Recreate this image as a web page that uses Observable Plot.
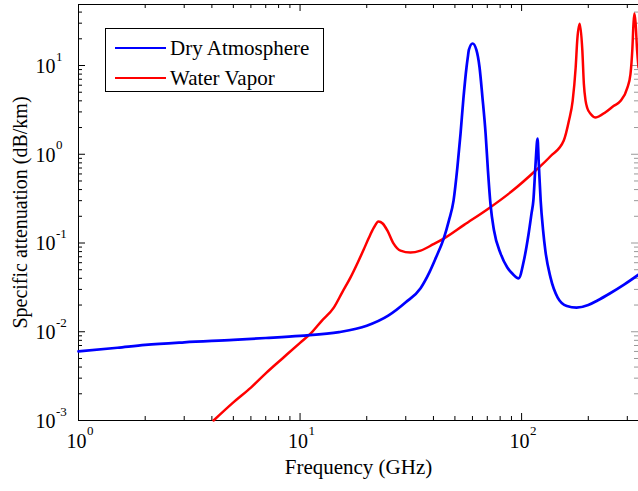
<!DOCTYPE html>
<html><head><meta charset="utf-8">
<script src="https://cdn.jsdelivr.net/npm/d3@7"></script>
<script src="https://cdn.jsdelivr.net/npm/@observablehq/plot@0.6"></script>
<style>
body{margin:0;background:#fff;}
#wrap{position:relative;width:638px;height:491px;overflow:hidden;}
#legend{position:absolute;left:105px;top:28px;width:217px;height:62px;border:1px solid #000;background:#fff;font-family:"Liberation Serif","Times New Roman",serif;font-size:21px;color:#000;}
.row{position:absolute;left:0;height:24px;display:flex;align-items:center;white-space:nowrap;}
.sw{width:51px;height:2.5px;margin-left:9px;margin-right:4px;}
</style></head><body><div id="wrap"></div>
<script>
// ---- data ----
const seriesNames = ["Dry Atmosphere", "Water Vapor"];
const seriesColors = ["#0000ff", "#ff0000"];

const dryFreq  = [1, 1.5, 2, 3, 5, 7, 10, 15, 20, 25, 30, 35, 38.4, 41, 44.5, 47, 49.3, 51.3, 53, 54.6, 56.4, 57.2, 57.8, 60.1, 62.5, 64.6, 66.5, 68.8, 70.5, 72.4, 75, 80.4, 86.2, 91, 96.9, 102.4, 107.6, 111, 113, 115.5, 118, 119.5, 121.9, 125, 128, 135, 145.5, 160, 177, 200, 220, 250, 290, 337];
const dryAtten = [0.0060, 0.0066, 0.0071, 0.0076, 0.0081, 0.0085, 0.0090, 0.0099, 0.0117, 0.0152, 0.0215, 0.031, 0.047, 0.068, 0.112, 0.18, 0.30, 0.71, 1.7, 4.2, 9.5, 12.5, 15, 17.7, 15, 9.5, 4.5, 1.7, 0.65, 0.27, 0.14, 0.076, 0.053, 0.045, 0.040, 0.0635, 0.128, 0.22, 0.30, 0.75, 1.5, 0.8, 0.30, 0.14, 0.082, 0.041, 0.0243, 0.0195, 0.0187, 0.020, 0.0225, 0.027, 0.034, 0.044];

const wvFreq  = [4.07, 5, 6, 7, 8.4, 10, 11.15, 12.5, 14.2, 15.5, 16.9, 18.2, 19.4, 20.4, 21.5, 22.6, 23.6, 24.8, 26.4, 28.4, 31.5, 35, 40, 44.5, 55, 71, 90, 115.7, 135, 155, 163.6, 170, 175.4, 178.5, 183, 188, 191, 194.5, 198, 205, 216, 240, 260, 280, 300, 310, 316, 320, 323, 327, 332, 337];
const wvAtten = [0.001, 0.0016, 0.00235, 0.0034, 0.0051, 0.0075, 0.0095, 0.0132, 0.0187, 0.0278, 0.041, 0.06, 0.085, 0.113, 0.148, 0.175, 0.166, 0.138, 0.099, 0.082, 0.078, 0.082, 0.097, 0.112, 0.16, 0.245, 0.38, 0.656, 0.95, 1.43, 2.4, 4.0, 9.5, 20, 29.6, 14.8, 6.2, 4.0, 3.3, 2.85, 2.6, 3.0, 3.5, 4.0, 5.6, 8, 15, 30, 38.5, 30, 15, 9.5];

const xMajorTicks = [1, 10, 100];
const xExponents  = ["0", "1", "2"];
const yMajorTicks = [0.001, 0.01, 0.1, 1, 10];
const yExponents  = ["-3", "-2", "-1", "0", "1"];
const xLabel = "Frequency (GHz)";
const yLabel = "Specific attenuation (dB/km)";

// ---- build ----
const dry = dryFreq.map((f, i) => ({f, a: dryAtten[i]}));
const wv  = wvFreq.map((f, i) => ({f, a: wvAtten[i]}));
const xDomain = [1, 337], yDomain = [0.001, 48.7];
const minorOf = (majors, hi) => majors.flatMap(m => d3.range(2, 10).map(k => k * m)).filter(v => v < hi);
const xMinor = minorOf(xMajorTicks, xDomain[1]);
const yMinor = minorOf(yMajorTicks, yDomain[1]);
const W = 638, H = 491, mL = 78, mR = 0, mT = 4, mB = 71;
const pw = W - mL - mR, ph = H - mT - mB;
const font = "Liberation Serif, Times New Roman, serif";
const txt = {fontFamily: font, fill: "#000", lineAnchor: "middle"};

const chart = Plot.plot({
  width: W, height: H,
  marginLeft: mL, marginRight: mR, marginTop: mT, marginBottom: mB,
  x: {type: "log", domain: xDomain, axis: null},
  y: {type: "log", domain: yDomain, axis: null},
  style: {fontFamily: font, background: "#fff", color: "#000"},
  marks: [
    // inward ticks (bottom, top, left, right)
    Plot.tickX(xMajorTicks, {x: d => d, insetTop: ph - 7, stroke: "#000"}),
    Plot.tickX(xMinor, {x: d => d, insetTop: ph - 4, stroke: "#000"}),
    Plot.tickX(xMajorTicks, {x: d => d, insetBottom: ph - 7, stroke: "#000"}),
    Plot.tickX(xMinor, {x: d => d, insetBottom: ph - 4, stroke: "#000"}),
    Plot.tickY(yMajorTicks, {y: d => d, insetRight: pw - 7, stroke: "#000"}),
    Plot.tickY(yMinor, {y: d => d, insetRight: pw - 4, stroke: "#000"}),
    Plot.tickY(yMajorTicks, {y: d => d, insetLeft: pw - 7, stroke: "#999"}),
    Plot.tickY(yMinor, {y: d => d, insetLeft: pw - 4, stroke: "#999"}),
    // axis lines
    Plot.ruleX([xDomain[0]], {stroke: "#000"}),
    Plot.ruleY([yDomain[0]], {stroke: "#000"}),
    Plot.ruleY([yDomain[1]], {stroke: "#000"}),
    // curves
    Plot.line(wv, {x: "f", y: "a", stroke: seriesColors[1], strokeWidth: 2.5, curve: "monotone-x"}),
    Plot.line(dry, {x: "f", y: "a", stroke: seriesColors[0], strokeWidth: 2.7, curve: "monotone-x"}),
    // x tick labels
    Plot.text(xMajorTicks, {...txt, x: d => d, frameAnchor: "bottom", text: () => "10", textAnchor: "end", dx: 8, dy: 21, fontSize: 20}),
    Plot.text(xMajorTicks, {...txt, x: d => d, frameAnchor: "bottom", text: (d, i) => xExponents[i], textAnchor: "start", dx: 8.5, dy: 10, fontSize: 13}),
    // y tick labels
    Plot.text(yMajorTicks, {...txt, y: d => d, frameAnchor: "left", text: () => "10", textAnchor: "end", dx: -23, dy: 1, fontSize: 20}),
    Plot.text(yMajorTicks, {...txt, y: d => d, frameAnchor: "left", text: (d, i) => yExponents[i], textAnchor: "start", dx: -22.5, dy: -9, fontSize: 13}),
    // axis titles
    Plot.text([xLabel], {...txt, frameAnchor: "bottom", text: d => d, textAnchor: "middle", dy: 47, fontSize: 21}),
    Plot.text([yLabel], {...txt, frameAnchor: "left", text: d => d, textAnchor: "middle", dx: -58, rotate: -90, fontSize: 20})
  ]
});
const wrap = document.getElementById("wrap");
wrap.appendChild(chart);

// legend
const legend = document.createElement("div");
legend.id = "legend";
seriesNames.forEach((name, i) => {
  const row = document.createElement("div");
  row.className = "row";
  row.style.top = (7 + 30 * i) + "px";
  const sw = document.createElement("span");
  sw.className = "sw";
  sw.style.background = seriesColors[i];
  const t = document.createElement("span");
  t.textContent = name;
  row.appendChild(sw); row.appendChild(t);
  legend.appendChild(row);
});
wrap.appendChild(legend);
</script>
</body></html>
